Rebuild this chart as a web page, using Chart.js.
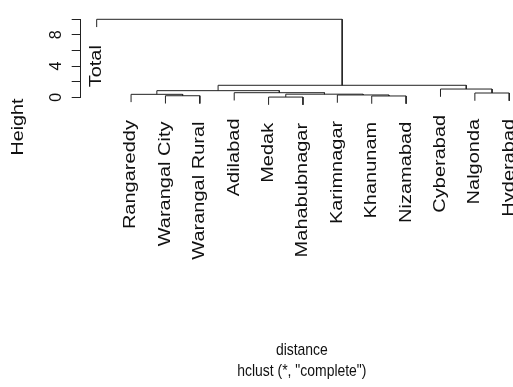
<!DOCTYPE html>
<html>
<head>
<meta charset="utf-8">
<script src="https://cdn.jsdelivr.net/npm/chart.js@4.4.0/dist/chart.umd.min.js"></script>
<style>
  html, body { margin: 0; padding: 0; background: #fff; }
  #wrap { width: 513px; height: 387px; overflow: hidden; position: relative; }
  canvas { display: block; }
</style>
</head>
<body>
<div id="wrap"><canvas id="tree" width="523" height="387"></canvas></div>
<script>
// leaves in plotted order
const leafLabels = ['Total', 'Rangareddy', 'Warangal City', 'Warangal Rural', 'Adilabad', 'Medak',
    'Mahabubnagar', 'Karimnagar', 'Khanunam', 'Nizamabad', 'Cyberabad', 'Nalgonda', 'Hyderabad'];

// hclust style merge table: negative = leaf (1-based position), positive = earlier merge
const mergeLeft = [-6, -9, -3, -8, -2, 1, -12, -5, 5, -11, 9, -1];
const mergeRight = [-7, -10, -4, 2, 3, 4, -13, 6, 8, 7, 10, 11];
const mergeHeight = [0.03, 0.17, 0.2, 0.3, 0.38, 0.40, 0.55, 0.59, 0.85, 1.06, 1.54, 10.0];

const yTicks = [0, 2, 4, 6, 8, 10];
const yTickText = ['0', '', '4', '', '8', ''];

const xTitle = 'distance';
const subTitle = 'hclust (*, "complete")';
const yTitle = 'Height';

const hang = 0.1 * (Math.max(...mergeHeight) - Math.min(...mergeHeight));
const lineColor = '#222';
const textColor = '#111';
const sansFont = '"Liberation Sans", Arial, sans-serif';

// centre x of every merge, and the height each leaf hangs from
const mergeX = [];
const leafParent = {};
function childX(c) { return c < 0 ? -c : mergeX[c - 1]; }

const datasets = mergeLeft.map((l, i) => {
    const r = mergeRight[i];
    const h = mergeHeight[i];
    const xl = childX(l), xr = childX(r);
    mergeX.push((xl + xr) / 2);
    if (l < 0) leafParent[-l] = h;
    if (r < 0) leafParent[-r] = h;
    const yl = l < 0 ? h - hang : mergeHeight[l - 1];
    const yr = r < 0 ? h - hang : mergeHeight[r - 1];
    return {
        data: [{ x: xl, y: yl }, { x: xl, y: h }, { x: xr, y: h }, { x: xr, y: yr }],
        borderColor: lineColor,
        borderWidth: 1,
        showLine: true,
        pointRadius: 0,
        tension: 0,
        clip: false
    };
});

// text drawn with a stretch, the original png was not square-scaled
function stretchedText(ctx, text, px, py, rot, sx, align) {
    ctx.save();
    ctx.translate(px, py);
    ctx.rotate(rot);
    ctx.scale(sx, 1);
    ctx.textAlign = align;
    ctx.fillText(text, 0, 0);
    ctx.restore();
}

const labelPlugin = {
    id: 'leafLabels',
    afterDraw(chart) {
        const { ctx, chartArea, scales: { x, y } } = chart;
        ctx.save();
        ctx.fillStyle = textColor;
        ctx.textBaseline = 'middle';
        ctx.font = '16px ' + sansFont;
        leafLabels.forEach((name, i) => {
            const px = x.getPixelForValue(i + 1);
            const py = y.getPixelForValue(leafParent[i + 1] - hang) + 18;
            stretchedText(ctx, name, px, py, -Math.PI / 2, 1.25, 'right');
        });
        stretchedText(ctx, yTitle, 19, 127, -Math.PI / 2, 1.23, 'center');

        const cx = (chartArea.left + chartArea.right) / 2;
        ctx.font = '17px ' + sansFont;
        stretchedText(ctx, xTitle, cx, 350, 0, 0.82, 'center');
        stretchedText(ctx, subTitle, cx, 371, 0, 0.82, 'center');
        ctx.restore();
    }
};

new Chart(document.getElementById('tree'), {
    type: 'scatter',
    data: { datasets },
    options: {
        responsive: false,
        animation: false,
        events: [],
        layout: { padding: { top: 19.3, left: 0, right: 0, bottom: 0 } },
        plugins: { legend: { display: false }, tooltip: { enabled: false } },
        scales: {
            x: {
                type: 'linear',
                min: 0.535,
                max: 13.40,
                grid: { display: false },
                border: { display: false },
                ticks: { display: false },
                afterFit(scale) {
                    scale.height = 387 - 97.3;
                    scale.paddingLeft = 0;
                    scale.paddingRight = 0;
                }
            },
            y: {
                type: 'linear',
                min: 0,
                max: 10,
                afterBuildTicks(scale) {
                    scale.ticks = yTicks.map(v => ({ value: v }));
                },
                grid: {
                    drawOnChartArea: false,
                    drawTicks: true,
                    tickLength: 9,
                    tickColor: lineColor,
                    tickWidth: 1
                },
                border: { display: true, color: lineColor, width: 1 },
                ticks: {
                    minRotation: 90,
                    maxRotation: 90,
                    crossAlign: 'center',
                    padding: 11,
                    color: textColor,
                    font: { family: sansFont, size: 16 },
                    callback: (v) => yTickText[yTicks.indexOf(v)] ?? ''
                },
                afterFit(scale) {
                    scale.width = 80.7;
                    scale.paddingTop = 0;
                    scale.paddingBottom = 0;
                }
            }
        }
    },
    plugins: [labelPlugin]
});
</script>
</body>
</html>
